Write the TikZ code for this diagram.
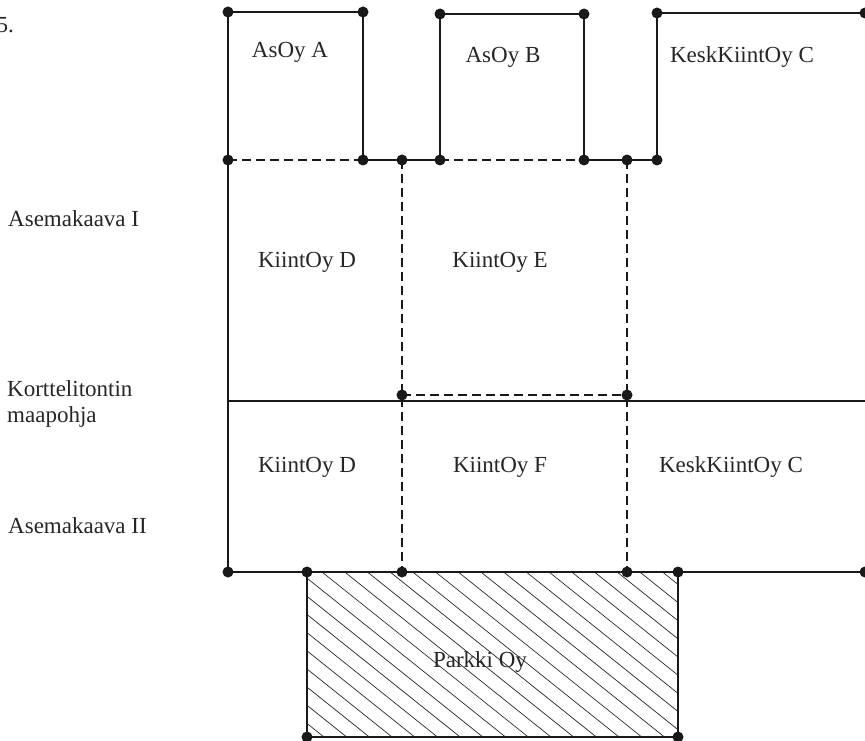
\documentclass[tikz,border=0pt]{standalone}
\usepackage{fontspec}
\setmainfont{Liberation Serif}
\begin{document}
\begin{tikzpicture}[x=1pt,y=-1pt,
  wall/.style={line width=2.6pt,black!90},
  share/.style={line width=2.6pt,black!90,dash pattern=on 9pt off 5pt},
  hatchline/.style={line width=0.7pt,black!85},
  pin/.style={circle,fill=black!90,inner sep=0pt,minimum size=11pt},
  lbl/.style={font=\fontsize{23}{27}\selectfont,inner sep=0pt,text=black!85}]
\useasboundingbox (0,0) rectangle (865,741);

% corner points of the lots
\coordinate (a1) at (228,12);  \coordinate (a2) at (363,12);
\coordinate (a3) at (228,160); \coordinate (a4) at (363,160);
\coordinate (m1) at (402,160);
\coordinate (b1) at (440,14);  \coordinate (b2) at (584,14);
\coordinate (b3) at (440,160); \coordinate (b4) at (584,160);
\coordinate (m2) at (627,160);
\coordinate (c1) at (657,13);  \coordinate (c2) at (865,13);
\coordinate (c3) at (657,160);
\coordinate (e1) at (402,395); \coordinate (e2) at (627,395);
\coordinate (g1) at (228,401); \coordinate (g2) at (865,401);
\coordinate (f0) at (228,572); \coordinate (p1) at (307,572);
\coordinate (f1) at (402,572); \coordinate (f2) at (627,572);
\coordinate (p2) at (678,572); \coordinate (f3) at (865,572);
\coordinate (p3) at (307,737); \coordinate (p4) at (678,737);

% hatching of the parking lot
\begin{scope}
  \clip (p1) rectangle (p4);
  \foreach \k in {-11,...,17}
    \draw[hatchline] (322+22.7*\k,572) -- ++(260,208);
\end{scope}

% solid boundaries
\draw[wall] (a3) -- (a1) -- (a2) -- (a4) -- (b3) -- (b1) -- (b2) -- (b4) -- (c3) -- (c1) -- (c2);
\draw[wall] (a3) -- (f0) -- (f3);
\draw[wall] (g1) -- (g2);
\draw[wall] (p1) -- (p3) -- (p4) -- (p2);

% dashed boundaries
\draw[share] (a3) -- (a4);
\draw[share] (b3) -- (b4);
\draw[share] (m1) -- (f1);
\draw[share] (m2) -- (f2);
\draw[share] (e1) -- (e2);

% boundary points
\foreach \p in {a1,a2,a3,a4,m1,b1,b2,b3,b4,m2,c1,c2,c3,e1,e2,f0,p1,f1,f2,p2,f3,p3,p4}
  \node[pin] at (\p) {};

% lot names
\node[lbl] (tA) at (290,52) {AsOy A};
\node[lbl] (tB) at (503,57) {AsOy B};
\node[lbl] (tC) at (742,57) {KeskKiintOy C};
\node[lbl] (tD1) at (307,262) {KiintOy D};
\node[lbl] (tE) at (500,262) {KiintOy E};
\node[lbl] (tD2) at (307,467) {KiintOy D};
\node[lbl] (tF) at (500,467) {KiintOy F};
\node[lbl] (tC2) at (731,467) {KeskKiintOy C};
\node[lbl] (tP) at (480,662) {Parkki Oy};

% level names
\node[lbl,anchor=base east] (num) at (14,33) {5.};
\node[lbl,anchor=west] (s1) at (8,219) {Asemakaava I};
\node[lbl,anchor=north west,align=left,font=\fontsize{23}{26}\selectfont] (s2) at (7,380) {Korttelitontin\\maapohja};
\node[lbl,anchor=west] (s3) at (8,526) {Asemakaava II};
\end{tikzpicture}
\end{document}
